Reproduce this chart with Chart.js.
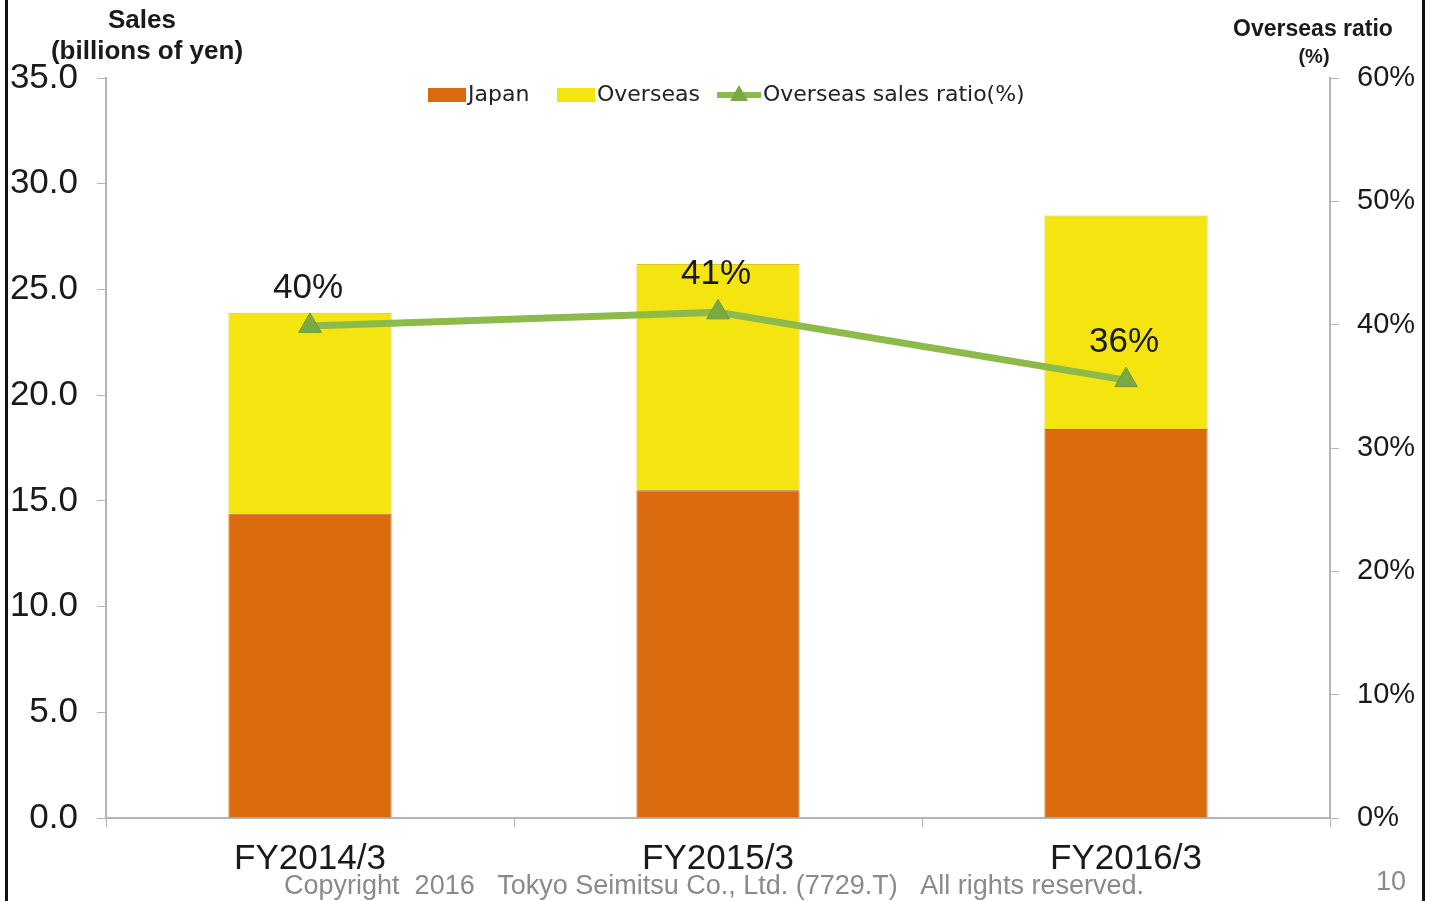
<!DOCTYPE html>
<html>
<head>
<meta charset="utf-8">
<script src="https://cdn.jsdelivr.net/npm/chart.js@4.4.1/dist/chart.umd.min.js"></script>
<style>
  body { margin: 0; background: #fff; }
  canvas { display: block; }
</style>
</head>
<body>
<canvas id="myChart" width="1435" height="901"></canvas>
<script>
// chart data
const years = ['FY2014/3', 'FY2015/3', 'FY2016/3'];
const japanSales = [14.4, 15.5, 18.4];
const overseasSales = [9.5, 10.7, 10.1];
const overseasRatio = [39.9, 41.0, 35.5];
const ratioLabels = ['40%', '41%', '36%'];

const FONT = '"Liberation Sans", Arial, sans-serif';

// texts drawn by hand: axis titles, legend, value labels, footer
const extrasPlugin = {
    id: 'extras',
    afterDatasetsDraw(chart) {
        const ctx = chart.ctx;
        ctx.save();

        // ratio labels above the points
        const meta = chart.getDatasetMeta(0);
        ctx.fillStyle = '#1a1a1a';
        ctx.font = '35px ' + FONT;
        ctx.textAlign = 'center';
        ctx.textBaseline = 'alphabetic';
        meta.data.forEach((pt, i) => {
            ctx.fillText(ratioLabels[i], pt.x - 2, pt.y - 28);
        });
        ctx.restore();
    },
    afterDraw(chart) {
        const ctx = chart.ctx;
        ctx.save();

        // frame lines
        ctx.fillStyle = '#111';
        ctx.fillRect(5, 0, 3, 901);
        ctx.fillRect(1422, 0, 3, 901);

        // axis titles
        ctx.fillStyle = '#1a1a1a';
        ctx.textAlign = 'center';
        ctx.textBaseline = 'middle';
        ctx.font = 'bold 26px ' + FONT;
        ctx.fillText('Sales', 142, 21);
        ctx.fillText('(billions of yen)', 147, 52);
        ctx.font = 'bold 23px ' + FONT;
        ctx.fillText('Overseas ratio', 1313, 30);
        ctx.font = 'bold 20px ' + FONT;
        ctx.fillText('(%)', 1314, 57);

        // legend
        const ds = chart.data.datasets;
        ctx.font = '22px "DejaVu Sans", ' + FONT;
        ctx.textAlign = 'left';
        let x = 428;
        const y = 95;
        // Japan
        ctx.fillStyle = ds[1].backgroundColor;
        ctx.fillRect(x, y - 7, 38, 14);
        ctx.fillStyle = '#222';
        ctx.fillText(ds[1].label, x + 40, y);
        x = 557;
        ctx.fillStyle = ds[2].backgroundColor;
        ctx.fillRect(x, y - 7, 38, 14);
        ctx.fillStyle = '#222';
        ctx.fillText(ds[2].label, x + 40, y);
        // line entry
        x = 717;
        ctx.strokeStyle = ds[0].borderColor;
        ctx.lineWidth = 6;
        ctx.beginPath();
        ctx.moveTo(x, y);
        ctx.lineTo(x + 44, y);
        ctx.stroke();
        ctx.fillStyle = ds[0].pointBackgroundColor;
        ctx.beginPath();
        ctx.moveTo(x + 22, y - 10);
        ctx.lineTo(x + 31, y + 6);
        ctx.lineTo(x + 13, y + 6);
        ctx.closePath();
        ctx.fill();
        ctx.fillStyle = '#222';
        ctx.fillText(ds[0].label, x + 46, y);

        // footer
        ctx.fillStyle = '#8a8a8a';
        ctx.textAlign = 'center';
        ctx.font = '27px ' + FONT;
        ctx.fillText('Copyright  2016   Tokyo Seimitsu Co., Ltd. (7729.T)   All rights reserved.', 714, 887);
        ctx.fillText('10', 1391, 883);
        ctx.restore();
    }
};

const ctx = document.getElementById('myChart').getContext('2d');

const chart = new Chart(ctx, {
    type: 'bar',
    data: {
        labels: years,
        datasets: [
            {
                type: 'line',
                label: 'Overseas sales ratio(%)',
                data: overseasRatio,
                yAxisID: 'y2',
                borderColor: '#8cba4b',
                borderWidth: 7,
                pointStyle: 'triangle',
                pointRadius: 13,
                pointBackgroundColor: '#7aa944',
                pointBorderColor: '#6b9a3c',
                pointBorderWidth: 1,
                order: 0
            },
            {
                label: 'Japan',
                data: japanSales,
                backgroundColor: '#d96a0d',
                borderColor: '#c45d0a',
                borderWidth: 1,
                stack: 'sales',
                order: 1
            },
            {
                label: 'Overseas',
                data: overseasSales,
                backgroundColor: '#f4e511',
                borderColor: '#d9c81a',
                borderWidth: 1,
                stack: 'sales',
                order: 1
            }
        ]
    },
    options: {
        responsive: false,
        animation: false,
        layout: { padding: { top: 78, left: 0, right: 0, bottom: 0 } },
        datasets: {
            bar: { barPercentage: 0.4, categoryPercentage: 1 }
        },
        plugins: {
            legend: { display: false },
            tooltip: { enabled: false }
        },
        scales: {
            x: {
                stacked: true,
                grid: { drawOnChartArea: false, color: '#b5b5b5', tickLength: 9, offset: true },
                border: { color: '#b5b5b5', width: 2 },
                ticks: { color: '#1a1a1a', font: { family: FONT, size: 35 }, padding: 11 },
                afterFit(scale) { scale.height = 83; }
            },
            y: {
                stacked: true,
                min: 0,
                max: 35,
                ticks: {
                    stepSize: 5,
                    color: '#1a1a1a',
                    font: { family: FONT, size: 35 },
                    padding: 19,
                    callback: v => v.toFixed(1)
                },
                grid: { drawOnChartArea: false, color: '#b5b5b5', tickLength: 9 },
                border: { color: '#b5b5b5', width: 2 },
                afterFit(scale) { scale.width = 106; }
            },
            y2: {
                position: 'right',
                min: 0,
                max: 60,
                ticks: {
                    stepSize: 10,
                    color: '#1a1a1a',
                    font: { family: FONT, size: 29 },
                    padding: 18,
                    callback: v => v + '%'
                },
                grid: { drawOnChartArea: false, color: '#b5b5b5', tickLength: 9 },
                border: { color: '#b5b5b5', width: 2 },
                afterFit(scale) { scale.width = 105; }
            }
        }
    },
    plugins: [extrasPlugin]
});
</script>
</body>
</html>
